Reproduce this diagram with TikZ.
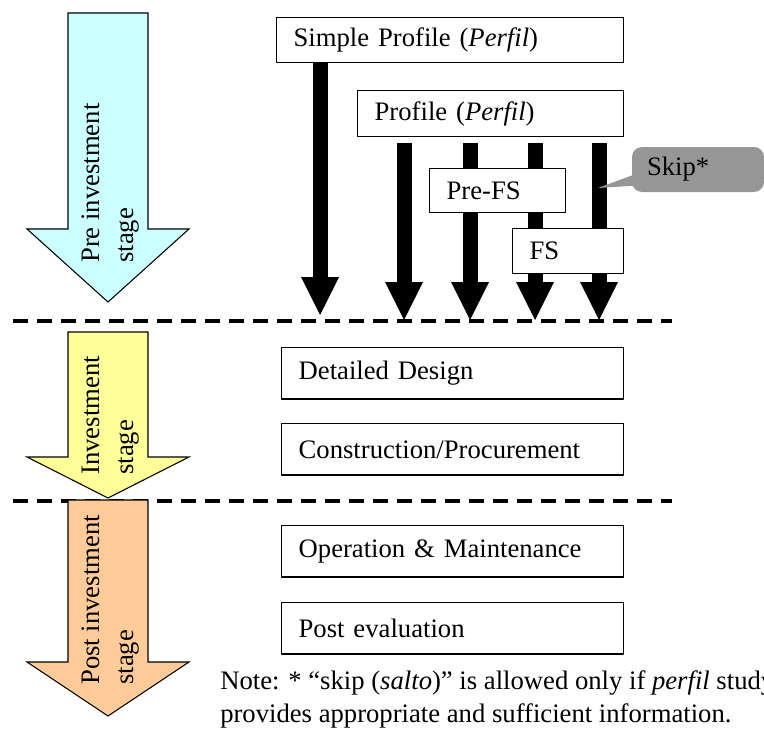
\documentclass[tikz,border=0pt]{standalone}
\usepackage{fontspec}
\setmainfont{Liberation Serif}
\usetikzlibrary{arrows.meta}

\definecolor{precyan}{HTML}{CCFFFF}
\definecolor{invyellow}{HTML}{FFFF99}
\definecolor{postpeach}{HTML}{FFCC99}
\definecolor{skipgray}{HTML}{969696}

\pgfdeclarelayer{background}
\pgfsetlayers{background,main}

\tikzset{
  stagebox/.style={draw, fill=white, line width=1pt, anchor=north west, align=left,
    inner xsep=12.75pt, inner ysep=0pt},
  flowarrow/.style={line width=11.25pt, -{Triangle[width=28.5pt,length=28.5pt,line width=0pt]}},
  stagearrow/.style={draw, line width=0.8pt, line join=miter},
  stagelabel/.style={rotate=90, anchor=west, align=left, inner sep=0pt},
  cutline/.style={line width=3pt, dash pattern=on 11.25pt off 6.75pt},
  skipnote/.style={fill=skipgray, rounded corners=7.5pt, minimum width=99pt, minimum height=33.75pt,
    text width=76.5pt, align=left, inner xsep=11.25pt},
}

\begin{document}
\begin{tikzpicture}[x=0.75pt, y=-0.75pt, font=\fontsize{20}{25.5}\selectfont, line join=round]
  \clip (0,0) rectangle (764,735);

  % stage arrows on the left
  \foreach \ya/\yb/\yc/\col in {13/229/302/precyan, 332/457/498/invyellow, 500/662/716/postpeach}
    \draw[stagearrow, fill=\col] (68,\ya) -- (148,\ya) -- (148,\yb) -- (189,\yb) -- (108,\yc)
      -- (27,\yb) -- (68,\yb) -- cycle;
  \node[stagelabel] (pre) at (111,263) {Pre investment\\stage};
  \node[stagelabel] (inv) at (111,475) {Investment\\stage};
  \node[stagelabel] (post) at (111,685) {Post investment\\stage};

  % pre investment studies
  \node[stagebox, text width=234.75pt, minimum height=33.75pt] (simple) at (276,17) {Simple Profile (\textit{Perfil})};
  \node[stagebox, text width=174pt, minimum height=34.5pt] (profile) at (357,90) {Profile (\textit{Perfil})};
  \node[stagebox, text width=76.5pt, minimum height=33pt] (prefs) at (429,168) {Pre-FS};
  \node[stagebox, text width=57.75pt, minimum height=33.75pt] (fs) at (512,228) {FS};

  % investment and post investment
  \node[stagebox, text width=231pt, minimum height=38.5pt] (design) at (281,347) {Detailed Design};
  \node[stagebox, text width=231pt, minimum height=38.5pt] (constr) at (281,423) {Construction/Procurement};
  \node[stagebox, text width=231pt, minimum height=38.5pt] (operate) at (281,525) {Operation \& Maintenance};
  \node[stagebox, text width=231pt, minimum height=38.5pt] (posteval) at (281,602) {Post evaluation};

  % stage borders and study paths
  \coordinate (cut1l) at (13,321);  \coordinate (cut1r) at (672,321);
  \coordinate (cut2l) at (13,501);  \coordinate (cut2r) at (672,501);
  \coordinate (tip1) at (320,315);
  \coordinate (tip2) at (404,320);
  \coordinate (tip3) at (470,320);
  \coordinate (tip4) at (535,320);
  \coordinate (tip5) at (599,320);
  \begin{pgfonlayer}{background}
    \draw[cutline] (cut1l) -- (cut1r);
    \draw[cutline] (cut2l) -- (cut2r);
    \draw[flowarrow] (simple.south -| tip1) -- (tip1);
    \foreach \n in {2,...,5}
      \draw[flowarrow] ([yshift=-4.5pt]profile.south -| tip\n) -- (tip\n);
  \end{pgfonlayer}

  % skip callout
  \coordinate (skipat) at (598,188);
  \node[skipnote] (skip) at (698,169.5) {Skip*};
  \fill[skipgray] ([xshift=4pt,yshift=-3pt]skip.west) -- (skipat) -- ([xshift=4pt,yshift=-12pt]skip.west) -- cycle;

  \node[anchor=north west, align=left, inner sep=0pt, font=\fontsize{20}{24.75}\selectfont] (note) at (220,670)
    {Note: * ``skip (\textit{salto})'' is allowed only if \textit{perfil} study\\
     provides appropriate and sufficient information.};
\end{tikzpicture}
\end{document}
